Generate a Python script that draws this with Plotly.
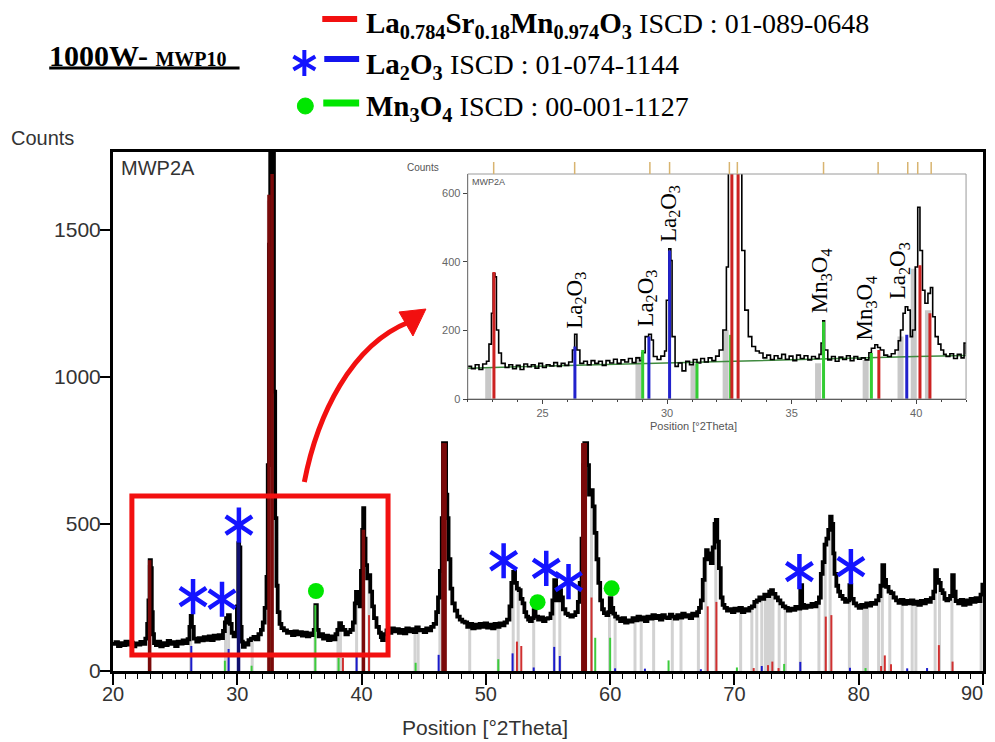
import plotly.graph_objects as go

# ---------------- data ----------------
main_scan = [
    (20.0, 92), (20.2, 98), (20.4, 85), (20.6, 95), (20.8, 88), (21.0, 100), (21.2, 90), (21.4, 96), (21.6, 84),
    (21.8, 94), (22.0, 90), (22.2, 99), (22.4, 92), (22.6, 110), (22.75, 160), (22.85, 240), (22.95, 377),
    (23.05, 350), (23.12, 200), (23.2, 125), (23.3, 95), (23.45, 88), (23.6, 100), (23.8, 84), (24.0, 95),
    (24.2, 88), (24.4, 102), (24.6, 92), (24.8, 98), (25.0, 85), (25.2, 100), (25.4, 93), (25.6, 104), (25.8, 95),
    (26.0, 108), (26.15, 150), (26.25, 187), (26.35, 150), (26.5, 110), (26.7, 100), (26.9, 112), (27.1, 104),
    (27.3, 115), (27.5, 106), (27.7, 118), (27.9, 105), (28.1, 120), (28.3, 110), (28.5, 122), (28.7, 112),
    (28.85, 136), (29.0, 165), (29.1, 180), (29.25, 190), (29.4, 160), (29.55, 130), (29.7, 118), (29.85, 125),
    (29.97, 220), (30.08, 435), (30.15, 420), (30.25, 150), (30.35, 100), (30.45, 82), (30.6, 95), (30.75, 90),
    (30.9, 105), (31.1, 110), (31.3, 116), (31.5, 108), (31.7, 125), (31.9, 140), (32.05, 165), (32.2, 215),
    (32.35, 320), (32.45, 700), (32.55, 1450), (32.65, 2100), (32.75, 2300), (32.85, 2100), (32.95, 950),
    (33.05, 520), (33.15, 290), (33.25, 200), (33.4, 160), (33.55, 146), (33.75, 138), (34.0, 130), (34.2, 133),
    (34.4, 122), (34.6, 135), (34.8, 125), (35.0, 132), (35.2, 120), (35.4, 130), (35.6, 118), (35.8, 128),
    (36.0, 122), (36.15, 140), (36.28, 224), (36.4, 140), (36.55, 118), (36.7, 125), (36.9, 110), (37.1, 120),
    (37.3, 105), (37.5, 118), (37.7, 108), (37.9, 125), (38.05, 140), (38.2, 163), (38.35, 150), (38.5, 140),
    (38.7, 125), (38.9, 132), (39.1, 140), (39.3, 165), (39.45, 230), (39.55, 269), (39.7, 245), (39.85, 220),
    (39.95, 340), (40.05, 480), (40.13, 554), (40.22, 450), (40.32, 360), (40.45, 315), (40.57, 326), (40.7, 270),
    (40.85, 220), (41.0, 180), (41.2, 150), (41.4, 130), (41.55, 115), (41.65, 105), (41.8, 125), (42.0, 138),
    (42.2, 130), (42.4, 145), (42.6, 135), (42.8, 142), (43.0, 130), (43.2, 140), (43.4, 128), (43.6, 145),
    (43.8, 135), (44.0, 142), (44.2, 132), (44.4, 148), (44.6, 138), (44.8, 140), (45.0, 132), (45.2, 145),
    (45.4, 138), (45.6, 150), (45.8, 160), (46.0, 200), (46.15, 250), (46.3, 340), (46.45, 520), (46.55, 775),
    (46.7, 775), (46.8, 600), (46.9, 520), (47.0, 380), (47.15, 280), (47.3, 230), (47.5, 205), (47.7, 185),
    (47.9, 175), (48.1, 168), (48.3, 165), (48.5, 150), (48.7, 160), (48.9, 145), (49.1, 158), (49.3, 148),
    (49.5, 160), (49.7, 150), (49.9, 162), (50.1, 148), (50.3, 158), (50.5, 145), (50.7, 160), (50.9, 150),
    (51.1, 162), (51.3, 155), (51.5, 165), (51.7, 175), (51.9, 220), (52.05, 300), (52.2, 337), (52.35, 300),
    (52.5, 280), (52.65, 275), (52.8, 245), (52.95, 230), (53.1, 200), (53.25, 185), (53.4, 175), (53.55, 170),
    (53.7, 180), (53.85, 207), (54.0, 185), (54.2, 175), (54.4, 182), (54.6, 170), (54.8, 178), (55.0, 180),
    (55.2, 195), (55.35, 240), (55.5, 309), (55.65, 260), (55.8, 240), (55.9, 275), (56.05, 250), (56.2, 210),
    (56.4, 195), (56.6, 190), (56.8, 185), (57.0, 190), (57.2, 200), (57.4, 235), (57.55, 300), (57.7, 450),
    (57.82, 700), (57.92, 775), (58.05, 775), (58.15, 700), (58.3, 600), (58.45, 615), (58.6, 560), (58.75, 470),
    (58.9, 380), (59.05, 300), (59.2, 240), (59.35, 210), (59.5, 197), (59.7, 190), (59.85, 200), (59.97, 248),
    (60.1, 215), (60.25, 195), (60.4, 185), (60.6, 178), (60.8, 170), (61.0, 180), (61.2, 165), (61.4, 172),
    (61.6, 168), (61.8, 180), (62.0, 172), (62.2, 185), (62.4, 175), (62.6, 182), (62.8, 170), (63.0, 185),
    (63.2, 178), (63.4, 190), (63.6, 180), (63.8, 187), (64.0, 175), (64.2, 190), (64.4, 182), (64.6, 180),
    (64.8, 192), (65.0, 185), (65.2, 178), (65.4, 190), (65.6, 182), (65.8, 195), (66.0, 185), (66.2, 190),
    (66.4, 180), (66.6, 195), (66.8, 188), (67.0, 200), (67.15, 215), (67.3, 240), (67.45, 310), (67.6, 380),
    (67.72, 411), (67.85, 400), (68.0, 380), (68.1, 367), (68.25, 420), (68.4, 500), (68.5, 514), (68.62, 440),
    (68.75, 350), (68.9, 250), (69.05, 225), (69.2, 215), (69.4, 205), (69.6, 210), (69.8, 200), (70.0, 212),
    (70.2, 205), (70.4, 215), (70.6, 200), (70.8, 210), (71.0, 205), (71.2, 215), (71.4, 220), (71.6, 235),
    (71.8, 240), (72.0, 250), (72.2, 245), (72.4, 260), (72.6, 255), (72.8, 270), (72.95, 275), (73.1, 262),
    (73.3, 250), (73.5, 240), (73.7, 230), (73.9, 220), (74.1, 215), (74.3, 205), (74.5, 212), (74.7, 208),
    (74.9, 218), (75.1, 212), (75.3, 292), (75.45, 225), (75.6, 215), (75.8, 222), (76.0, 218), (76.2, 228),
    (76.4, 220), (76.6, 232), (76.8, 250), (76.95, 330), (77.1, 370), (77.25, 430), (77.4, 450), (77.55, 480),
    (77.7, 525), (77.82, 500), (77.95, 400), (78.05, 330), (78.2, 290), (78.35, 270), (78.5, 255), (78.7, 245),
    (78.9, 235), (79.1, 240), (79.25, 292), (79.4, 245), (79.6, 230), (79.8, 222), (80.0, 215), (80.2, 225),
    (80.4, 218), (80.6, 230), (80.8, 222), (81.0, 232), (81.2, 228), (81.4, 240), (81.6, 255), (81.75, 290),
    (81.9, 360), (82.05, 310), (82.2, 286), (82.4, 270), (82.6, 265), (82.8, 250), (83.0, 240), (83.2, 232),
    (83.4, 242), (83.6, 228), (83.8, 238), (84.0, 230), (84.2, 240), (84.4, 228), (84.6, 236), (84.8, 225),
    (85.0, 238), (85.2, 230), (85.4, 242), (85.6, 235), (85.8, 248), (86.0, 270), (86.15, 343), (86.3, 310),
    (86.45, 300), (86.6, 275), (86.75, 265), (86.9, 245), (87.05, 240), (87.2, 245), (87.35, 255), (87.52, 326),
    (87.65, 270), (87.8, 238), (88.0, 230), (88.2, 242), (88.4, 225), (88.6, 240), (88.8, 228), (89.0, 245),
    (89.2, 235), (89.4, 248), (89.6, 238), (89.8, 260), (89.95, 300),
]

inset_scan = [
    (22.0, 95), (22.15, 88), (22.3, 100), (22.45, 86), (22.6, 102), (22.75, 110), (22.85, 160), (22.95, 250),
    (23.02, 366), (23.09, 356), (23.15, 201), (23.24, 134), (23.35, 104), (23.5, 92), (23.65, 100), (23.8, 88),
    (23.95, 98), (24.1, 86), (24.25, 102), (24.4, 94), (24.55, 100), (24.7, 90), (24.85, 104), (25.0, 92),
    (25.15, 100), (25.3, 96), (25.45, 106), (25.6, 95), (25.75, 104), (25.9, 98), (26.05, 108), (26.2, 143),
    (26.29, 189), (26.38, 143), (26.5, 104), (26.65, 110), (26.8, 100), (26.95, 112), (27.1, 104), (27.25, 110),
    (27.4, 98), (27.55, 112), (27.7, 105), (27.85, 116), (28.0, 104), (28.15, 114), (28.3, 108), (28.45, 118),
    (28.6, 106), (28.75, 120), (28.9, 112), (29.0, 135), (29.12, 182), (29.26, 189), (29.37, 172), (29.45, 124),
    (29.6, 115), (29.75, 125), (29.9, 140), (29.97, 288), (30.07, 438), (30.15, 404), (30.2, 182), (30.32, 95),
    (30.45, 105), (30.6, 82), (30.75, 110), (30.9, 100), (31.05, 115), (31.2, 105), (31.35, 118), (31.5, 108),
    (31.65, 120), (31.8, 112), (31.95, 125), (32.09, 143), (32.24, 201), (32.38, 385), (32.46, 700), (32.55, 900),
    (32.7, 950), (32.85, 900), (32.93, 700), (33.0, 433), (33.12, 259), (33.26, 182), (33.4, 153), (33.55, 140),
    (33.7, 134), (33.85, 120), (34.0, 128), (34.15, 115), (34.3, 126), (34.45, 118), (34.6, 130), (34.75, 116),
    (34.9, 125), (35.05, 112), (35.2, 128), (35.35, 118), (35.5, 126), (35.65, 114), (35.8, 124), (35.95, 118),
    (36.1, 130), (36.18, 163), (36.25, 228), (36.32, 143), (36.45, 114), (36.6, 124), (36.75, 110), (36.9, 122),
    (37.05, 115), (37.2, 126), (37.35, 112), (37.5, 124), (37.65, 116), (37.8, 120), (37.95, 114), (38.1, 135),
    (38.2, 148), (38.34, 158), (38.45, 150), (38.56, 143), (38.7, 128), (38.85, 124), (39.0, 132), (39.15, 143),
    (39.28, 170), (39.37, 201), (39.47, 250), (39.56, 269), (39.66, 259), (39.76, 182), (39.85, 201), (39.96, 385),
    (40.06, 559), (40.15, 433), (40.25, 317), (40.35, 279), (40.47, 308), (40.57, 325), (40.66, 240), (40.76, 182),
    (40.88, 160), (40.99, 143), (41.1, 130), (41.2, 124), (41.35, 132), (41.5, 118), (41.65, 130), (41.8, 120),
    (41.92, 163), (42.0, 130),
]
inset_bg_tt = [22, 25, 28, 31, 34, 37, 40, 42]
inset_bg_ct = [90, 96, 102, 108, 114, 119, 124, 127]

# peak-list bars and reference sticks (position, height)
main_peaklist = [(22.9, 360), (26.25, 185), (29.05, 170), (29.3, 185), (30.1, 430), (31.2, 110), (32.5, 1600),
                 (32.8, 1650), (36.25, 220), (38.1, 150), (38.3, 155), (39.6, 265), (40.1, 550), (40.6, 320),
                 (44.3, 140), (44.55, 145), (46.3, 330), (46.6, 775), (48.7, 158), (51.0, 150), (52.2, 335),
                 (52.6, 275), (53.85, 205), (55.5, 305), (55.95, 270), (57.85, 700), (58.5, 610), (59.95, 245),
                 (60.4, 185), (62.0, 172), (62.5, 178), (63.5, 185), (65.0, 185), (65.7, 185), (67.1, 210),
                 (67.7, 410), (68.5, 510), (70.5, 205), (71.4, 215), (71.8, 240), (72.2, 245), (72.5, 258),
                 (72.7, 262), (72.9, 272), (73.1, 262), (73.6, 235), (74.1, 215), (75.3, 290), (76.8, 250),
                 (77.3, 440), (77.7, 520), (79.25, 290), (80.4, 218), (80.55, 222), (80.7, 225), (81.6, 255),
                 (81.9, 355), (82.5, 268), (83.5, 235), (84.3, 232), (84.6, 234), (86.15, 340), (86.5, 298),
                 (87.5, 322), (89.85, 262)]
lsmo_strong = [(22.95, 377), (32.55, 1620), (32.8, 1690), (40.15, 480), (46.55, 775), (46.72, 775),
               (57.8, 775), (58.0, 775)]
lsmo_weak = [(38.5, 45), (40.6, 190), (52.5, 100), (52.85, 85), (58.5, 250), (67.85, 220), (68.55, 235),
             (71.55, 10), (72.7, 20), (73.05, 32), (73.55, 10), (77.35, 185), (77.8, 190), (81.8, 17),
             (82.1, 53), (82.6, 23), (86.45, 88), (87.55, 32)]
la2o3_strong = [(30.1, 435)]
la2o3_weak = [(26.3, 85), (29.3, 75), (39.6, 60), (46.2, 55), (52.15, 60), (53.85, 12), (55.5, 82), (55.95, 51),
              (60.4, 9), (62.8, 8), (67.3, 6), (72.2, 17), (75.3, 31), (79.3, 11), (83.9, 9), (85.5, 10)]
mn3o4_sticks = [(29.0, 35), (31.15, 18), (32.6, 150), (36.28, 224), (38.15, 45), (44.35, 28), (51.0, 40),
                (58.8, 113), (60.0, 113), (64.7, 36), (70.2, 12), (74.0, 24), (80.55, 10)]

inset_peaklist = [(22.82, 90), (28.85, 124), (31.06, 104), (32.35, 201), (36.06, 104), (37.97, 114),
                  (39.37, 182), (39.9, 380), (40.47, 259)]
inset_lsmo = [(23.05, 370), (32.6, 700), (32.85, 700), (38.5, 143), (40.15, 390), (40.55, 250)]
inset_la2o3 = [(26.3, 153), (29.27, 182), (30.1, 433), (39.62, 187)]
inset_mn3o4 = [(29.02, 143), (31.2, 104), (32.55, 187), (36.28, 225), (38.2, 134)]
inset_marks = [23.04, 26.29, 29.31, 30.1, 32.5, 32.82, 36.28, 38.47, 39.66, 40.06, 40.6]

# phase markers in main pattern
star_tt = [26.44, 28.77, 30.13, 51.43, 54.86, 56.65, 75.23, 79.37]
star_ct = [253, 244, 496, 375, 349, 304, 338, 355]
dot_tt = [36.33, 54.16, 60.12]
dot_ct = [272, 234, 281]

# inset vertical labels: (text, 2theta, counts)
inset_labels = [("La<sub>2</sub>O<sub>3</sub>", 26.31, 287), ("La<sub>2</sub>O<sub>3</sub>", 29.16, 293),
                ("La<sub>2</sub>O<sub>3</sub>", 30.09, 540), ("Mn<sub>3</sub>O<sub>4</sub>", 36.16, 345),
                ("Mn<sub>3</sub>O<sub>4</sub>", 38.0, 265), ("La<sub>2</sub>O<sub>3</sub>", 39.29, 374)]

x_ticks = [20, 30, 40, 50, 60, 70, 80, 90]
x_ticklabels = ["20", "30", "40", "50", "60", "70", "80", ""]   # "90" sits at the cut edge, drawn below
y_ticks = [0, 500, 1000, 1500]
inset_xticks = [25, 30, 35, 40]
inset_yticks = [0, 200, 400, 600]

# ---------------- geometry helpers (screen pixels; page body has an 8px margin) ----------------
OFF = 8
SW, SH = 995, 742
W, H = SW - 2 * OFF, SH - OFF
PL, PR, PT, PB = 113, 986, 152, 671          # plot area in screen pixels
PW, PH = PR - PL, PB - PT
YMAX = 1765


def PX(x):
    return (x - PL) / PW


def PY(y):
    return (PB - y) / PH


fig = go.Figure()


def add_sticks(pairs, color, width, xa="x", ya="y"):
    xs, ys = [], []
    for p, h in pairs:
        xs += [p, p, None]
        ys += [0, h, None]
    fig.add_trace(go.Scatter(x=xs, y=ys, mode="lines", line=dict(color=color, width=width),
                             xaxis=xa, yaxis=ya, hoverinfo="skip", showlegend=False))


# ---------------- main pattern ----------------
add_sticks(main_peaklist, "#d2d2d2", 3)
fig.add_trace(go.Scatter(x=[p[0] for p in main_scan], y=[p[1] for p in main_scan], mode="lines",
                         line=dict(color="black", width=3.8, shape="hv"), showlegend=False))
add_sticks(mn3o4_sticks, "#3ccc3c", 2)
add_sticks(la2o3_weak, "#1a1acc", 2)
add_sticks(lsmo_weak, "#d03030", 2)
add_sticks(la2o3_strong, "#10106e", 3.5)
add_sticks(lsmo_strong, "#7a0a0a", 3.5)

STAR_BLUE = "#1414ff"
for sym in ["y-up-open", "y-down-open"]:
    fig.add_trace(go.Scatter(x=star_tt, y=star_ct, mode="markers",
                             marker=dict(symbol=sym, size=22, color=STAR_BLUE,
                                         line=dict(color=STAR_BLUE, width=4.5)),
                             showlegend=False, cliponaxis=False))
fig.add_trace(go.Scatter(x=dot_tt, y=dot_ct, mode="markers",
                         marker=dict(symbol="circle", size=16, color="#00e600"),
                         showlegend=False, cliponaxis=False))

# ---------------- inset ----------------
add_sticks(inset_peaklist, "#c8c8c8", 6, "x2", "y2")
fig.add_trace(go.Scatter(x=inset_bg_tt, y=inset_bg_ct, mode="lines", line=dict(color="#3f8a3f", width=1.5),
                         xaxis="x2", yaxis="y2", showlegend=False))
fig.add_trace(go.Scatter(x=[p[0] for p in inset_scan], y=[p[1] for p in inset_scan], mode="lines",
                         line=dict(color="black", width=1.6, shape="hv"), xaxis="x2", yaxis="y2",
                         showlegend=False))
add_sticks(inset_mn3o4, "#33cc33", 3, "x2", "y2")
add_sticks(inset_la2o3, "#2222cc", 3, "x2", "y2")
add_sticks(inset_lsmo, "#cc2222", 3, "x2", "y2")

# ---------------- layout ----------------
tickfont = dict(family="Liberation Sans", size=20, color="#333")
fig.update_layout(
    width=W, height=H, margin=dict(l=PL - OFF, r=W - (PR - OFF), t=PT - OFF, b=SH - PB),
    paper_bgcolor="white", plot_bgcolor="white", showlegend=False,
    xaxis=dict(range=[20, 90], tickvals=x_ticks, ticktext=x_ticklabels, ticks="outside", ticklen=11,
               tickwidth=1.5, tickcolor="black", showline=True, linecolor="black", linewidth=3, mirror=True,
               showgrid=False, zeroline=False, tickfont=tickfont, ticklabelstandoff=-8,
               minor=dict(dtick=1, ticks="outside", ticklen=5, tickwidth=1.2, tickcolor="black")),
    yaxis=dict(range=[0, YMAX], tickvals=y_ticks, ticks="outside", ticklen=10, tickwidth=1.5,
               tickcolor="black", showline=True, linecolor="black", linewidth=3, mirror=True,
               showgrid=False, zeroline=False, tickfont=dict(family="Liberation Sans", size=21, color="#333"),
               ticklabelstandoff=-5),
    xaxis2=dict(domain=[PX(469), PX(969)], anchor="y2", range=[22, 42], tickvals=inset_xticks,
                ticks="outside", ticklen=4, tickcolor="#444", showline=True, linecolor="#222",
                linewidth=1.2, showgrid=False, zeroline=False,
                tickfont=dict(family="Liberation Sans", size=11, color="#666"),
                minor=dict(dtick=1, ticks="outside", ticklen=2, tickcolor="#444")),
    yaxis2=dict(domain=[PY(399), PY(174)], anchor="x2", range=[0, 656], tickvals=inset_yticks,
                ticks="outside", ticklen=4, tickcolor="#444", showline=True, linecolor="#222",
                linewidth=1.2, showgrid=False, zeroline=False,
                tickfont=dict(family="Liberation Sans", size=11, color="#666")),
)

RED = "#f21010"


def pline(x0, y0, x1, y1, color, width):
    return dict(type="line", xref="paper", yref="paper", x0=PX(x0), x1=PX(x1), y0=PY(y0), y1=PY(y1),
                line=dict(color=color, width=width))


shapes = [
    dict(type="rect", xref="x2 domain", yref="y2 domain", x0=0, x1=1, y0=0, y1=1,
         line=dict(color="#9a9a9a", width=1)),
    dict(type="rect", xref="x", yref="y", x0=21.52, x1=42.13, y0=54, y1=595,
         line=dict(color=RED, width=5)),
    dict(type="path", xref="paper", yref="paper",
         path=f"M {PX(305)},{PY(482)} C {PX(318)},{PY(415)} {PX(352)},{PY(345)} {PX(410)},{PY(322)}",
         line=dict(color=RED, width=5)),
    dict(type="path", xref="paper", yref="paper",
         path=f"M {PX(427)},{PY(309)} L {PX(400)},{PY(312)} L {PX(414)},{PY(336)} Z",
         fillcolor=RED, line=dict(color=RED, width=1)),
    # legend dashes
    pline(323, 19, 358, 19, RED, 6),
    pline(325, 59, 360, 59, "#1414ee", 6),
    pline(324, 103, 360, 103, "#00e600", 7),
    # legend asterisk (6 arms)
    pline(305, 50, 305, 76, STAR_BLUE, 4),
    pline(294, 56.5, 316, 69.5, STAR_BLUE, 4),
    pline(294, 69.5, 316, 56.5, STAR_BLUE, 4),
    # legend dot
    dict(type="circle", xref="paper", yref="paper", x0=PX(298), x1=PX(314), y0=PY(114), y1=PY(98),
         fillcolor="#00e600", line=dict(color="#00e600", width=1)),
    # underline of sample name
    pline(49, 68, 240, 68, "black", 3),
]
# orange marks above the inset frame
for m in inset_marks:
    shapes.append(dict(type="line", xref="x2", yref="paper", x0=m, x1=m, y0=PY(174), y1=PY(162),
                       line=dict(color="#d8b470", width=1.5)))
fig.update_layout(shapes=shapes)

serif = "Liberation Serif"
ann = []


def add_text(text, x, y, size, family="Liberation Sans", color="#333", xanchor="left"):
    ann.append(dict(text=text, xref="paper", yref="paper", x=PX(x), y=PY(y), showarrow=False,
                    xanchor=xanchor, yanchor="middle", font=dict(family=family, size=size, color=color)))


add_text("Counts", 9, 138, 20)
add_text("MWP2A", 119, 168, 20)
add_text("Position [°2Theta]", 486, 727, 21, xanchor="center")
# last x tick label, kept inside the page edge
ann.append(dict(text=str(x_ticks[-1]), xref="paper", yref="paper", x=PX(987), y=PY(693), showarrow=False,
                xanchor="right", yanchor="middle", xshift=0, borderpad=0,
                font=dict(family="Liberation Sans", size=20, color="#333")))
# inset texts
add_text("Counts", 406, 167, 10, color="#555")
add_text("MWP2A", 471, 182, 9, color="#555")
add_text("Position [°2Theta]", 696, 426, 11, color="#555", xanchor="center")
# header
add_text("<b>1000W- <span style='font-size:20px'>MWP10</span></b>", 47, 55, 30, family=serif, color="black")
add_text("<b>La<sub>0.784</sub>Sr<sub>0.18</sub>Mn<sub>0.974</sub>O<sub>3</sub></b> "
         "<span style='font-size:28px'>ISCD : 01-089-0648</span>", 365, 25, 29, family=serif, color="black")
add_text("<b>La<sub>2</sub>O<sub>3</sub></b> <span style='font-size:28px'>ISCD : 01-074-1144</span>",
         365, 66, 29, family=serif, color="black")
add_text("<b>Mn<sub>3</sub>O<sub>4</sub></b> <span style='font-size:28px'>ISCD : 00-001-1127</span>",
         365, 108, 29, family=serif, color="black")

for txt, xx, yy in inset_labels:
    ann.append(dict(text=txt, xref="x2", yref="y2", x=xx, y=yy, showarrow=False, textangle=-90,
                    xanchor="center", yanchor="middle", font=dict(family=serif, size=23, color="black")))

fig.update_layout(annotations=ann)
fig.write_html("out.html")
